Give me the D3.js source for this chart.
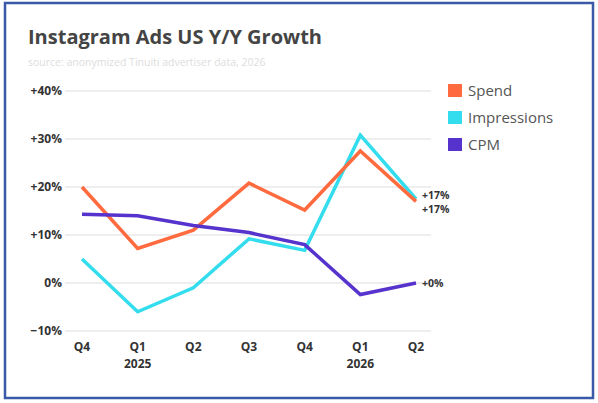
<!DOCTYPE html><html><head><script src="https://cdn.jsdelivr.net/npm/d3@7"></script>
<style>body{margin:0;background:#fff}text{font-family:"Open Sans",sans-serif}</style></head><body>
<svg id="c" width="598" height="403"></svg>
<script>
const quarters=["Q4","Q1","Q2","Q3","Q4","Q1","Q2"];
const years=["","2025","","","","2026",""];
const spend=[20,7.2,11,20.8,15.2,27.5,17];
const impressions=[5,-6,-1,9.2,6.8,30.8,17.5];
const cpm=[14.3,14,12,10.5,8,-2.4,0];
const yTicks=[-10,0,10,20,30,40];
const seriesNames=["Spend","Impressions","CPM"];
const colors=["#FF6B3F","#33DDEE","#5533CC"];
const endLabels=["+17%","+17%","+0%"];
const svg=d3.select("#c");
svg.append("rect").attr("x",5).attr("y",3).attr("width",588).attr("height",395).attr("fill","#fff").attr("stroke","#3a5aa8").attr("stroke-width",2.5);
svg.append("text").attr("x",28).attr("y",44).attr("font-size",20).attr("font-weight",700).attr("fill","#444").text("Instagram Ads US Y/Y Growth");
svg.append("text").attr("x",28).attr("y",66).attr("font-size",10.5).attr("fill","#ddd").text("source: anonymized Tinuiti advertiser data, 2026");
const x=d3.scalePoint().domain(d3.range(7)).range([82,416]);
const y=d3.scaleLinear().domain([-10,40]).range([331,91]);
const g=svg.append("g");
g.selectAll(".grid").data(yTicks).join("line").attr("x1",65).attr("x2",431).attr("y1",d=>y(d)).attr("y2",d=>y(d)).attr("stroke","#e8e8e8").attr("stroke-width",1.5);
g.selectAll(".yl").data(yTicks).join("text").attr("x",62).attr("y",d=>y(d)+4).attr("text-anchor","end").attr("font-size",12).attr("font-weight",700).attr("fill","#333").text(d=>d>0?"+"+d+"%":d<0?"\u2212"+(-d)+"%":"0%");
g.selectAll(".xl").data(quarters).join("text").attr("x",(d,i)=>x(i)).attr("y",351).attr("text-anchor","middle").attr("font-size",12).attr("font-weight",700).attr("fill","#333").text(d=>d);
g.selectAll(".yr").data(years).join("text").attr("x",(d,i)=>x(i)).attr("y",368).attr("text-anchor","middle").attr("font-size",12).attr("font-weight",700).attr("fill","#333").text(d=>d);
const line=d3.line().x((d,i)=>x(i)).y(d=>y(d));
[impressions,spend,cpm].forEach(s=>{const k=[spend,impressions,cpm].indexOf(s);
g.append("path").attr("d",line(s)).attr("fill","none").attr("stroke",colors[k]).attr("stroke-width",3.5);});
const ly=[y(17)-6,y(17)+8,y(0)];
endLabels.forEach((t,k)=>g.append("text").attr("x",422).attr("y",ly[k]+4).attr("font-size",10.5).attr("font-weight",700).attr("fill","#333").text(t));
seriesNames.forEach((n,k)=>{
svg.append("rect").attr("x",448).attr("y",84+k*27).attr("width",14).attr("height",13).attr("fill",colors[k]);
svg.append("text").attr("x",468).attr("y",96+k*27).attr("font-size",15).attr("fill","#555").text(n);});
</script></body></html>
